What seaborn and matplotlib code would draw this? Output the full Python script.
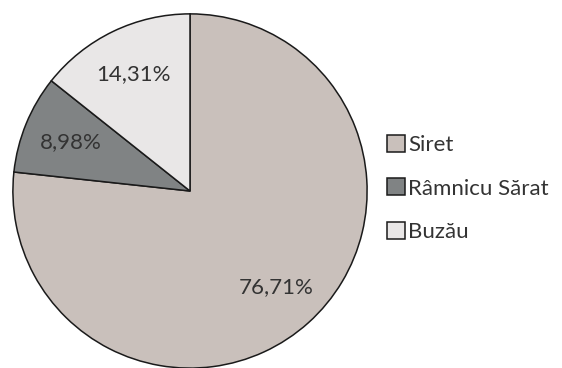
import matplotlib
matplotlib.use("Agg")
import matplotlib.pyplot as plt
import seaborn as sns

# share of basin area per river
rivers = ["Siret", "Râmnicu Sărat", "Buzău"]
shares = [76.71, 8.98, 14.31]
colors = ["#c9c0bb", "#808384", "#e9e7e7"]

sns.set_theme(style="white")
plt.rcParams["font.family"] = ["Lato", "DejaVu Sans"]

fig = plt.figure(figsize=(5.62, 3.68), dpi=100)
ax = fig.add_axes([12 / 562, -1 / 368, 356 / 562, 356 / 368])

wedges, texts, autotexts = ax.pie(
    shares,
    colors=colors,
    startangle=90,
    counterclock=False,
    pctdistance=0.73,
    autopct=lambda p: f"{p:.2f}%".replace(".", ","),
    wedgeprops=dict(edgecolor="#1a1a1a", linewidth=1.1),
    textprops=dict(fontsize=16, color="#333333"),
)
ax.set_xlim(-1.005, 1.005)
ax.set_ylim(-1.005, 1.005)
ax.set_aspect("equal")

fig.legend(
    wedges, rivers,
    loc="upper left",
    bbox_to_anchor=(378 / 562, 1 - 126 / 368),
    frameon=False,
    fontsize=16,
    handlelength=0.8,
    handleheight=0.8,
    handletextpad=0.15,
    labelspacing=1.05,
    borderaxespad=0,
    labelcolor="#333333",
)

fig.savefig("out.png", dpi=100)
